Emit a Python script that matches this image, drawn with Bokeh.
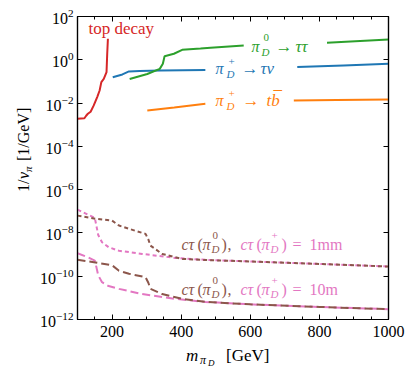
import math
from bokeh.plotting import figure
from bokeh.layouts import row, column
from bokeh.models import (Label, LinearAxis, LogAxis, SingleIntervalTicker, FixedTicker,
                          CustomJSTickFormatter, Range1d, Div)
from bokeh.embed import file_html
from bokeh.resources import INLINE

nan = float("nan")

# ---------------- data ----------------
m_top = [100, 120, 125, 130, 138, 147, 157, 164, 169, 176, 184, 186, 188]
v_top = [1.9e-3, 2.0e-3, 2.6e-3, 3.2e-3, 4.0e-3, 7.8e-3, 1.9e-2, 3.8e-2, 9.3e-2, 0.13, 0.27, 1.9, 9.3]

m_taunu = [202, 230, 249, 280, 340, 470, nan, 736, 870, 1000]
v_taunu = [0.157, 0.21, 0.29, 0.30, 0.32, 0.34, nan, 0.46, 0.55, 0.65]

m_tautau = [251, 302, 338, 347, 352, 379, 403, 456, 485, 581, nan, 822, 1000]
v_tautau = [0.13, 0.22, 0.38, 0.65, 1.47, 1.9, 2.9, 3.3, 3.6, 4.6, nan, 6.1, 8.7]

m_tb = [302, 380, 470, nan, 726, 850, 1000]
v_tb = [4.5e-3, 6.2e-3, 9.3e-3, nan, 0.0131, 0.0140, 0.0146]

m_ct = [100, 130, 150, 155, 160, 171, 190, 220, 287, 383, 470, 600, 800, 1000]
v_pip_1mm = [1.2e-7, 7e-8, 5e-8, 2e-8, 8e-9, 3.7e-9, 2.2e-9, 1.5e-9, 1.07e-9, 7e-10, 5.7e-10, 4.8e-10, 3.7e-10, 2.8e-10]
v_pip_10m = [1.15e-9, 7.5e-10, 5.3e-10, 2.5e-10, 1.1e-10, 5.3e-11, 3.5e-11, 2.6e-11, 1.5e-11, 9e-12, 6.5e-12, 5e-12, 3.8e-12, 3e-12]

m_ct0 = [100, 152, 200, 220, 249, 297, 305, 311, 345, 403, 470, 600, 800, 1000]
v_pi0_1mm = [6.3e-8, 4.5e-8, 3.7e-8, 2.2e-8, 1.55e-8, 9e-9, 5e-9, 2.6e-9, 1.07e-9, 6.3e-10, 5.6e-10, 4.8e-10, 3.7e-10, 2.8e-10]
v_pi0_10m = [5.7e-10, 4.3e-10, 3.2e-10, 1.8e-10, 1.3e-10, 9e-11, 5e-11, 2.6e-11, 1.5e-11, 9e-12, 6.5e-12, 5e-12, 3.8e-12, 3e-12]

x_range = (100, 1000)
y_range = (1e-12, 1e2)
y_ticks = [1e-12, 1e-10, 1e-8, 1e-6, 1e-4, 1e-2, 1e0, 1e2]

RED, BLUE, GREEN, ORANGE, BROWN, PINK = "#d62728", "#1f77b4", "#2ca02c", "#ff7f0e", "#8c564b", "#e377c2"
FONT = "Liberation Serif"

# ---------------- figure ----------------
YDIV_W = 36
p = figure(width=415 - YDIV_W, height=349, y_axis_type="log",
           x_range=Range1d(*x_range), y_range=Range1d(*y_range),
           output_backend="svg", toolbar_location=None,
           min_border_left=77 - YDIV_W, min_border_right=27, min_border_top=16, min_border_bottom=30,
           background_fill_color="white", border_fill_color="white")
p.grid.visible = False
p.outline_line_color = "black"
p.outline_line_width = 1.2

def style_axis(ax, show_labels=True):
    ax.axis_line_color = "black"
    ax.axis_line_width = 1.2
    ax.major_tick_in = 5
    ax.major_tick_out = 0
    ax.minor_tick_in = 3
    ax.minor_tick_out = 0
    ax.major_tick_line_width = 1
    ax.minor_tick_line_width = 1
    ax.major_label_text_font = FONT
    ax.major_label_text_color = "black"
    if show_labels:
        ax.major_label_text_font_size = "16px"
    else:
        ax.formatter = CustomJSTickFormatter(code="return '';")
        ax.major_label_text_font_size = "1px"
        ax.major_label_standoff = 0

xt = SingleIntervalTicker(interval=200, num_minor_ticks=4)
yt = FixedTicker(ticks=y_ticks, minor_ticks=[])

p.xaxis.ticker = xt
p.yaxis.ticker = yt
style_axis(p.xaxis[0])
style_axis(p.yaxis[0])
p.xaxis.major_label_standoff = 6
p.yaxis.major_label_standoff = 4

top_ax = LinearAxis(ticker=xt)
style_axis(top_ax, False)
p.add_layout(top_ax, "above")
right_ax = LogAxis(ticker=yt)
style_axis(right_ax, False)
p.add_layout(right_ax, "right")

# ---------------- lines ----------------
p.line(m_top, v_top, line_color=RED, line_width=2)
p.line(m_taunu, v_taunu, line_color=BLUE, line_width=2)
p.line(m_tautau, v_tautau, line_color=GREEN, line_width=2)
p.line(m_tb, v_tb, line_color=ORANGE, line_width=2)

p.line(m_ct, v_pip_1mm, line_color=PINK, line_width=2, line_dash="4 3")
p.line(m_ct0, v_pi0_1mm, line_color=BROWN, line_width=2, line_dash="4 3")
p.line(m_ct, v_pip_10m, line_color=PINK, line_width=2, line_dash="8 4")
p.line(m_ct0, v_pi0_10m, line_color=BROWN, line_width=2, line_dash="8 4")

# ---------------- in-frame text (page-pixel placement helper) ----------------
FL, FB = 77, 319  # frame left / bottom in page pixels
DY = 4            # baseline correction

def put(text, px, py, size, color, style="italic", align="left"):
    p.add_layout(Label(x=px - FL, y=FB - py + DY, x_units="screen", y_units="screen",
                       text=text, text_font=FONT, text_font_size=f"{size}px",
                       text_font_style=style, text_color=color,
                       text_baseline="alphabetic", text_align=align))

M, S = 16, 11  # main and script sizes

put("top decay", 88, 32, 17, RED, "normal")

# pi_D^0 -> tau tau
put("π", 251, 50, M, GREEN); put("0", 263, 41, S, GREEN, "normal"); put("D", 261, 55, S, GREEN)
put("→", 275, 50, 17, GREEN, "normal"); put("ττ", 295, 50, 17, GREEN)

# pi_D^+ -> tau nu
put("π", 215, 72, M, BLUE); put("+", 228, 65, S, BLUE, "normal"); put("D", 226, 77, S, BLUE)
put("→", 241, 72, 17, BLUE, "normal"); put("τν", 260, 72, 17, BLUE)

# pi_D^+ -> t bbar
put("π", 215, 104, M, ORANGE); put("+", 228, 97, S, ORANGE, "normal"); put("D", 226, 109, S, ORANGE)
put("→", 242, 104, 17, ORANGE, "normal"); put("tb", 266, 104, 17, ORANGE); put("¯", 273, 101, 17, ORANGE, "normal")

def ct_label(base, value):
    put("cτ", 181, base, M, BROWN); put("(", 197, base, M, BROWN, "normal"); put("π", 202, base, M, BROWN)
    put("0", 212, base - 9, S, BROWN, "normal"); put("D", 211, base + 4, S, BROWN)
    put(")", 221, base, M, BROWN, "normal"); put(",", 227, base, M, BROWN, "normal")
    put("cτ", 240, base, M, PINK); put("(", 256, base, M, PINK, "normal"); put("π", 261, base, M, PINK)
    put("+", 271, base - 9, S, PINK, "normal"); put("D", 270, base + 4, S, PINK)
    put(")", 281, base, M, PINK, "normal"); put("=", 292, base, M, PINK, "normal")
    put(value, 309, base, M, PINK, "normal")

ct_label(248, "1mm")
ct_label(293, "10m")

# ---------------- axis titles as HTML text ----------------
ASC = 0.8375  # baseline position inside a line box of height = font size

def span(text, left, base, size, italic, rotate=False):
    fs = "italic" if italic else "normal"
    if rotate:
        # rotated -90deg about its top-left corner: text runs upward from page y = left
        st = (f"position:absolute;left:{base - ASC * size:.1f}px;top:{left:.1f}px;font-size:{size}px;"
              f"line-height:{size}px;font-style:{fs};white-space:nowrap;"
              "transform:rotate(-90deg);transform-origin:0 0;")
    else:
        st = (f"position:absolute;left:{left:.1f}px;top:{base - ASC * size:.1f}px;font-size:{size}px;"
              f"line-height:{size}px;font-style:{fs};white-space:nowrap;")
    return f'<span style="{st}">{text}</span>'

BOX = "position:relative;font-family:'Liberation Serif';color:black;"

XDIV_TOP = 349
x_title = (f'<div style="{BOX}width:{415 - YDIV_W}px;height:30px;">'
           + span("m", 186 - YDIV_W, 361 - XDIV_TOP, 17, True)
           + span("π", 200 - YDIV_W, 364 - XDIV_TOP, 12, True)
           + span("D", 208 - YDIV_W, 366 - XDIV_TOP, 9, True)
           + span("[GeV]", 226 - YDIV_W, 361 - XDIV_TOP, 17, False)
           + '</div>')
xdiv = Div(text=x_title, width=415 - YDIV_W, height=30, margin=0)

# rotated pieces: first number = page y where the text starts (bottom), second = baseline page x
y_title = (f'<div style="{BOX}width:{YDIV_W}px;height:379px;">'
           + span("1/", 192, 29.5, 16, False, True)
           + span("v", 179, 29.5, 16, True, True)
           + span("π", 171.5, 32.5, 11, True, True)
           + span("[1/GeV]", 161, 29.5, 16, False, True)
           + '</div>')
ydiv = Div(text=y_title, width=YDIV_W, height=379, margin=0)

layout = row(ydiv, column(p, xdiv, spacing=0), spacing=0)

open("out.html", "w").write(file_html(layout, INLINE))
